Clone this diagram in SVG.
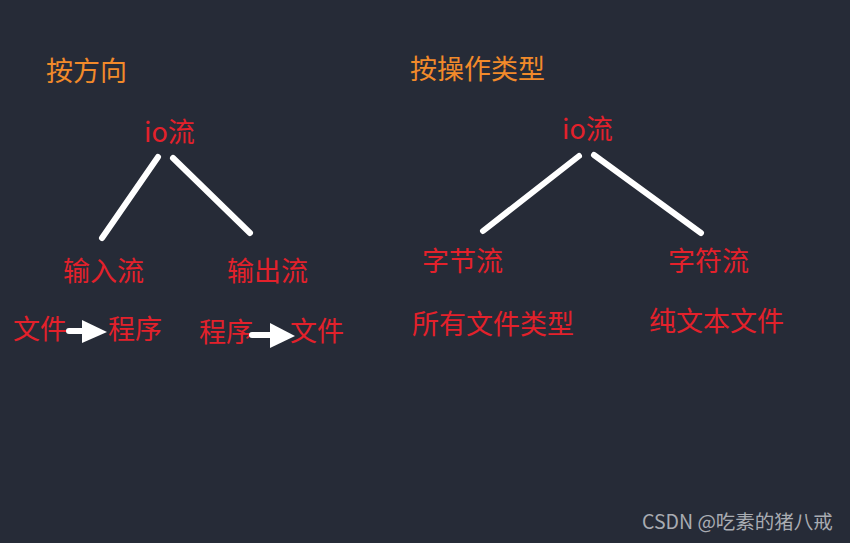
<svg xmlns="http://www.w3.org/2000/svg" width="850" height="543" viewBox="0 0 850 543">
<style>
text{font-family:"Noto Sans CJK SC","Noto Sans",sans-serif;font-size:27px}
.o{fill:#f28a2a}
.r{fill:#e3212b}
.w{fill:#a9acb2;font-size:19.5px}
.ln{stroke:#ffffff;stroke-width:6;stroke-linecap:round;fill:none}
.ar{fill:#ffffff}
</style>
<rect width="850" height="543" fill="#262b37"/>
<g id="title-left"><text class="o" x="46" y="81">按方向</text></g>
<g id="title-right"><text class="o" x="410" y="79">按操作类型</text></g>
<g id="io-left"><text class="r" x="144" y="142">io流</text></g>
<g id="input"><text class="r" x="63" y="281">输入流</text></g>
<g id="output"><text class="r" x="227" y="281">输出流</text></g>
<g id="in-flow"><text class="r" x="13" y="339">文件</text><text class="r" x="108" y="339">程序</text></g>
<g id="out-flow"><text class="r" x="199" y="342">程序</text><text class="r" x="290" y="341">文件</text></g>
<g id="io-right"><text class="r" x="562" y="139">io流</text></g>
<g id="byte"><text class="r" x="422" y="271">字节流</text></g>
<g id="char"><text class="r" x="668" y="271">字符流</text></g>
<g id="byte-desc"><text class="r" x="412" y="334">所有文件类型</text></g>
<g id="char-desc"><text class="r" x="649" y="331">纯文本文件</text></g>
<g id="connectors">
<line class="ln" x1="158" y1="157" x2="102" y2="238"/>
<line class="ln" x1="173" y1="158" x2="250" y2="233"/>
<line class="ln" x1="579" y1="156" x2="483" y2="231"/>
<line class="ln" x1="594" y1="155" x2="701" y2="233"/>
<line class="ln" x1="69" y1="331" x2="84" y2="331"/>
<polygon class="ar" points="82,320 107,332 82,343"/>
<line class="ln" x1="252" y1="335" x2="272" y2="335"/>
<polygon class="ar" points="270,323 295,336 270,348"/>
</g>
<text class="w" x="642" y="529">CSDN @吃素的猪八戒</text>
</svg>
